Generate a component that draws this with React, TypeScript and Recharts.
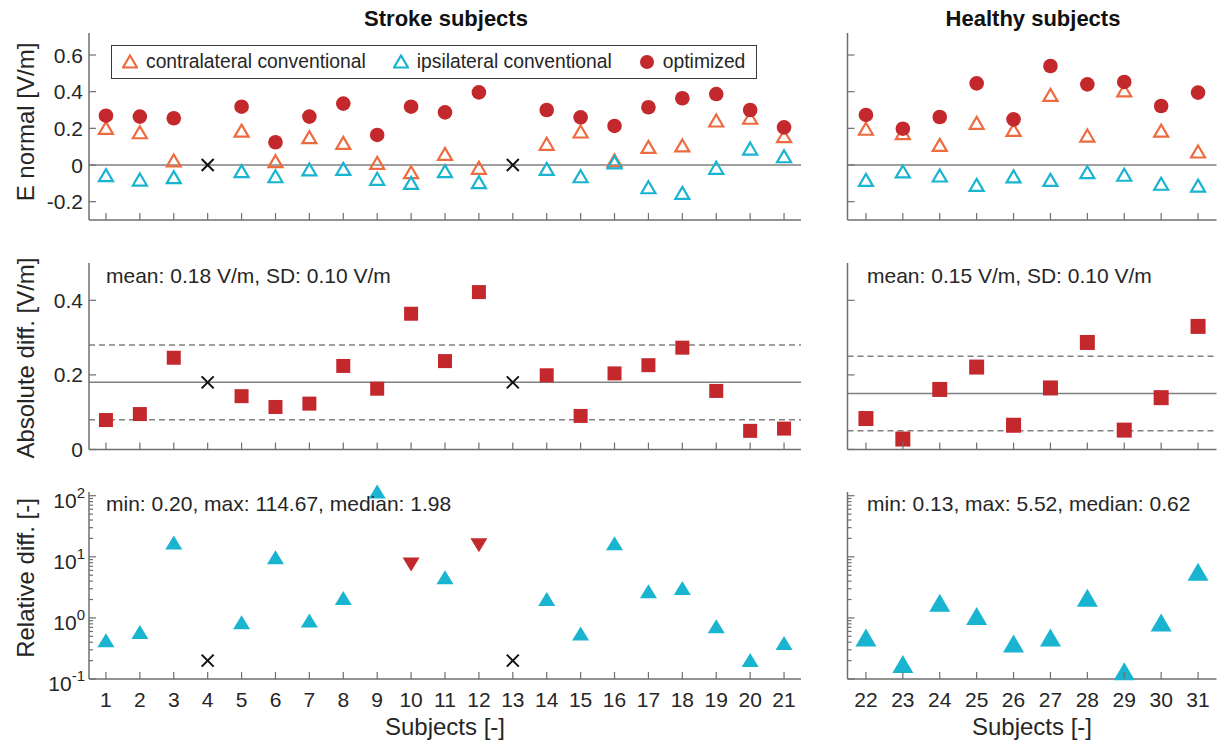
import React from "react";
import {
  ScatterChart,
  Scatter,
  XAxis,
  YAxis,
  ReferenceLine,
  Legend,
} from "recharts";

/* ── Data ─────────────────────────────────────────────────────── */

const STROKE_SUBJECTS = [1, 2, 3, 4, 5, 6, 7, 8, 9, 10, 11, 12, 13, 14, 15, 16, 17, 18, 19, 20, 21];
const HEALTHY_SUBJECTS = [22, 23, 24, 25, 26, 27, 28, 29, 30, 31];
const MISSING_SUBJECTS = [4, 13];

// E normal [V/m], stroke (null = no data)
const STROKE_CONTRA = [0.2, 0.176, 0.022, null, 0.185, 0.018, 0.149, 0.118, 0.009, -0.042, 0.058, -0.018, null, 0.113, 0.18, 0.022, 0.096, 0.104, 0.24, 0.255, 0.155];
const STROKE_IPSI = [-0.058, -0.082, -0.069, null, -0.036, -0.064, -0.027, -0.024, -0.078, -0.1, -0.036, -0.096, null, -0.024, -0.064, 0.012, -0.124, -0.155, -0.018, 0.087, 0.045];
const STROKE_OPT = [0.269, 0.264, 0.255, null, 0.318, 0.124, 0.264, 0.335, 0.164, 0.318, 0.287, 0.396, null, 0.3, 0.26, 0.213, 0.315, 0.364, 0.387, 0.3, 0.205];

// E normal [V/m], healthy
const HEALTHY_CONTRA = [0.195, 0.171, 0.107, 0.227, 0.189, 0.38, 0.158, 0.404, 0.185, 0.071];
const HEALTHY_IPSI = [-0.084, -0.038, -0.06, -0.111, -0.065, -0.084, -0.042, -0.056, -0.105, -0.115];
const HEALTHY_OPT = [0.273, 0.198, 0.262, 0.445, 0.249, 0.54, 0.44, 0.453, 0.322, 0.395];

// absolute difference [V/m]
const STROKE_ABS = [0.079, 0.095, 0.246, null, 0.143, 0.114, 0.123, 0.224, 0.163, 0.364, 0.237, 0.422, null, 0.199, 0.09, 0.204, 0.226, 0.273, 0.157, 0.05, 0.056];
const HEALTHY_ABS = [0.083, 0.028, 0.161, 0.221, 0.065, 0.165, 0.287, 0.052, 0.139, 0.33];
const STROKE_ABS_MEAN = 0.18;
const STROKE_ABS_SD = 0.1;
const HEALTHY_ABS_MEAN = 0.15;
const HEALTHY_ABS_SD = 0.1;

// relative difference [-]
const STROKE_REL = [0.42, 0.57, 16.7, null, 0.83, 9.6, 0.88, 2.07, 114.67, 7.7, 4.5, 15.9, null, 1.98, 0.54, 16.3, 2.65, 3.0, 0.71, 0.2, 0.38];
const STROKE_REL_NEG_CONTRA = [10, 12]; // contralateral field was negative
const HEALTHY_REL = [0.46, 0.17, 1.71, 1.04, 0.37, 0.46, 2.07, 0.13, 0.81, 5.52];

// where the missing subjects are marked
const MISSING_E = [0, 0];
const MISSING_ABS = [0.18, 0.18];
const MISSING_REL = [0.2, 0.2];

// ticks
const E_TICKS = [-0.2, 0, 0.2, 0.4, 0.6];
const ABS_TICKS = [0, 0.2, 0.4];
const LOG_MAJOR = [0.1, 1, 10, 100];
const LOG_TICKS = [0.1, 0.2, 0.3, 0.4, 0.5, 0.6, 0.7, 0.8, 0.9, 1, 2, 3, 4, 5, 6, 7, 8, 9, 10, 20, 30, 40, 50, 60, 70, 80, 90, 100];

/* ── Style ────────────────────────────────────────────────────── */

const FONT = '"Liberation Sans", Arial, Helvetica, sans-serif';
const TEXT = "#262626";
const AXIS = "#6f6f6f";
const REF = "#808080";
const ORANGE = "#ED6B3F";
const CYAN = "#19B4D0";
const RED = "#C3282C";
const AXIS_LINE = { stroke: AXIS, strokeWidth: 1.5 };

type Pt = { x: number; y: number };
const zip = (xs: number[], ys: (number | null)[]): Pt[] =>
  xs.flatMap((x, i) => (ys[i] === null ? [] : [{ x, y: ys[i] as number }]));

/* ── Markers ──────────────────────────────────────────────────── */

const openTriangle = (color: string) => (p: any) => (
  <path
    d={`M${p.cx},${p.cy - 6.5}L${p.cx + 7},${p.cy + 5.5}L${p.cx - 7},${p.cy + 5.5}Z`}
    fill="none"
    stroke={color}
    strokeWidth={2.2}
  />
);

const filledTriangle = (color: string, w: number, h: number, down = false) => (p: any) => {
  const s = down ? -1 : 1;
  return (
    <path
      d={`M${p.cx},${p.cy - s * h * 0.55}L${p.cx + w / 2},${p.cy + s * h * 0.45}L${p.cx - w / 2},${p.cy + s * h * 0.45}Z`}
      fill={color}
    />
  );
};

const dot = (p: any) => <circle cx={p.cx} cy={p.cy} r={7.3} fill={RED} />;
const square = (size: number) => (p: any) => (
  <rect x={p.cx - size / 2} y={p.cy - size / 2} width={size} height={size} fill={RED} />
);
const cross = (p: any) => (
  <g stroke="#111" strokeWidth={2}>
    <line x1={p.cx - 6} y1={p.cy - 6} x2={p.cx + 6} y2={p.cy + 6} />
    <line x1={p.cx - 6} y1={p.cy + 6} x2={p.cx + 6} y2={p.cy - 6} />
  </g>
);

/* ── Ticks (MATLAB style, pointing inward) ─────────────────────── */

function XTick(props: any) {
  const { x, y, payload, showLabel } = props;
  return (
    <g>
      <line x1={x} x2={x} y1={y} y2={y - 7} stroke={AXIS} strokeWidth={1.2} />
      {showLabel && (
        <text x={x} y={y + 28} textAnchor="middle" fontSize={21} fill={TEXT} fontFamily={FONT}>
          {payload.value}
        </text>
      )}
    </g>
  );
}

function YTick(props: any) {
  const { x, y, payload, showLabel, log } = props;
  const v = payload.value as number;
  const major = !log || LOG_MAJOR.includes(v);
  return (
    <g>
      <line x1={x} x2={x + (major ? 7 : 4)} y1={y} y2={y} stroke={AXIS} strokeWidth={1.2} />
      {showLabel && major && !log && (
        <text x={x - 6} y={y + 7.5} textAnchor="end" fontSize={21} fill={TEXT} fontFamily={FONT}>
          {v}
        </text>
      )}
      {showLabel && major && log && (
        <text x={x - 4} y={y + 12} textAnchor="end" fontSize={21} fill={TEXT} fontFamily={FONT}>
          10
          <tspan dy={-10} fontSize={15}>
            {Math.round(Math.log10(v))}
          </tspan>
        </text>
      )}
    </g>
  );
}

/* ── Legend ───────────────────────────────────────────────────── */

function legendIcon(name: string) {
  if (name === "optimized") return <circle cx={8} cy={8} r={7} fill={RED} />;
  const c = name.startsWith("ipsi") ? CYAN : ORANGE;
  return <path d="M8,1.5L15,13.5L1,13.5Z" fill="none" stroke={c} strokeWidth={2.2} />;
}

function LegendBox(props: any) {
  const items = ((props.payload ?? []) as any[]).filter((it) => it.type !== "none");
  return (
    <div
      style={{
        boxSizing: "border-box",
        width: 646,
        height: 34,
        border: "1.5px solid #3a3a3a",
        background: "#fff",
        display: "flex",
        alignItems: "center",
        paddingLeft: 10,
        fontFamily: FONT,
        fontSize: 19.3,
        color: TEXT,
        whiteSpace: "nowrap",
      }}
    >
      {items.map((it, i) => (
        <div key={it.value} style={{ display: "flex", alignItems: "center", marginLeft: i === 0 ? 0 : 27 }}>
          <svg width={16} height={16}>{legendIcon(String(it.value))}</svg>
          <span style={{ marginLeft: 8 }}>{it.value}</span>
        </div>
      ))}
    </div>
  );
}

/* ── Layout helpers ───────────────────────────────────────────── */

const abs = (left: number, top: number): React.CSSProperties => ({ position: "absolute", left, top });

function Text({ x, baseline, size, children, bold, center }: any) {
  const top = baseline - size * 0.8465;
  return (
    <div
      style={{
        position: "absolute",
        left: center ? x - 200 : x,
        width: center ? 400 : undefined,
        textAlign: center ? "center" : "left",
        top,
        fontSize: size,
        lineHeight: 1,
        fontWeight: bold ? 700 : 400,
        color: bold ? "#111" : TEXT,
        fontFamily: FONT,
        whiteSpace: "nowrap",
      }}
    >
      {children}
    </div>
  );
}

function YTitle({ cy, children }: any) {
  return (
    <div
      style={{
        position: "absolute",
        left: 26,
        top: cy,
        transform: "translate(-50%, -50%) rotate(-90deg)",
        fontSize: 24,
        lineHeight: 1,
        color: TEXT,
        fontFamily: FONT,
        whiteSpace: "nowrap",
      }}
    >
      {children}
    </div>
  );
}

const STROKE_X = { domain: [0.5, 21.5] as [number, number], ticks: STROKE_SUBJECTS };
const HEALTHY_X = { domain: [21.5, 31.5] as [number, number], ticks: HEALTHY_SUBJECTS };

function xAxis(x: typeof STROKE_X, height: number, showLabel: boolean) {
  return (
    <XAxis
      type="number"
      dataKey="x"
      domain={x.domain}
      ticks={x.ticks}
      interval={0}
      height={height}
      tickSize={0}
      tickMargin={0}
      tickLine={false}
      axisLine={AXIS_LINE}
      tick={<XTick showLabel={showLabel} />}
    />
  );
}

function yAxis(domain: [number, number], ticks: number[], width: number, showLabel: boolean, log = false) {
  return (
    <YAxis
      type="number"
      dataKey="y"
      scale={log ? "log" : "auto"}
      domain={domain}
      ticks={ticks}
      interval={0}
      width={width}
      tickSize={0}
      tickMargin={0}
      tickLine={false}
      axisLine={AXIS_LINE}
      tick={<YTick showLabel={showLabel} log={log} />}
    />
  );
}

/* ── Component ────────────────────────────────────────────────── */

export default function App() {
  const relUp = zip(
    STROKE_SUBJECTS,
    STROKE_REL.map((v, i) => (STROKE_REL_NEG_CONTRA.includes(STROKE_SUBJECTS[i]) ? null : v))
  );
  const relDown = zip(
    STROKE_SUBJECTS,
    STROKE_REL.map((v, i) => (STROKE_REL_NEG_CONTRA.includes(STROKE_SUBJECTS[i]) ? v : null))
  );

  return (
    <div style={{ position: "absolute", left: 0, top: 0, width: 1217, height: 745, background: "#fff", overflow: "hidden" }}>
      {/* ── Top row: E normal ─────────────────────────────── */}
      <div style={abs(0, 0)}>
        <ScatterChart width={810} height={240} margin={{ top: 33, right: 9, bottom: 0, left: 0 }}>
          {xAxis(STROKE_X, 20, false)}
          {yAxis([-0.3, 0.72], E_TICKS, 89, true)}
          <ReferenceLine y={0} stroke={REF} strokeWidth={1.5} />
          <Scatter name="contralateral conventional" data={zip(STROKE_SUBJECTS, STROKE_CONTRA)} shape={openTriangle(ORANGE)} fill={ORANGE} isAnimationActive={false} />
          <Scatter name="ipsilateral conventional" data={zip(STROKE_SUBJECTS, STROKE_IPSI)} shape={openTriangle(CYAN)} fill={CYAN} isAnimationActive={false} />
          <Scatter name="optimized" data={zip(STROKE_SUBJECTS, STROKE_OPT)} shape={dot} fill={RED} isAnimationActive={false} />
          <Scatter name="missing" legendType="none" data={zip(MISSING_SUBJECTS, MISSING_E)} shape={cross} isAnimationActive={false} />
          <Legend
            layout="vertical"
            align="center"
            verticalAlign="middle"
            wrapperStyle={{ left: 111, top: 45, width: 646, height: 34 }}
            content={<LegendBox />}
          />
        </ScatterChart>
      </div>
      <div style={abs(760, 0)}>
        <ScatterChart width={457} height={240} margin={{ top: 33, right: 0.5, bottom: 0, left: 0 }}>
          {xAxis(HEALTHY_X, 20, false)}
          {yAxis([-0.3, 0.72], E_TICKS, 87.5, false)}
          <ReferenceLine y={0} stroke={REF} strokeWidth={1.5} />
          <Scatter name="contralateral conventional" data={zip(HEALTHY_SUBJECTS, HEALTHY_CONTRA)} shape={openTriangle(ORANGE)} isAnimationActive={false} />
          <Scatter name="ipsilateral conventional" data={zip(HEALTHY_SUBJECTS, HEALTHY_IPSI)} shape={openTriangle(CYAN)} isAnimationActive={false} />
          <Scatter name="optimized" data={zip(HEALTHY_SUBJECTS, HEALTHY_OPT)} shape={dot} isAnimationActive={false} />
        </ScatterChart>
      </div>

      {/* ── Middle row: absolute difference ───────────────── */}
      <div style={abs(0, 240)}>
        <ScatterChart width={810} height={230} margin={{ top: 23, right: 9, bottom: 0, left: 0 }}>
          {xAxis(STROKE_X, 20.5, false)}
          {yAxis([0, 0.5], ABS_TICKS, 89, true)}
          <ReferenceLine y={STROKE_ABS_MEAN + STROKE_ABS_SD} stroke={REF} strokeWidth={1.5} strokeDasharray="6 4" />
          <ReferenceLine y={STROKE_ABS_MEAN} stroke={REF} strokeWidth={1.5} />
          <ReferenceLine y={STROKE_ABS_MEAN - STROKE_ABS_SD} stroke={REF} strokeWidth={1.5} strokeDasharray="6 4" />
          <Scatter name="abs" data={zip(STROKE_SUBJECTS, STROKE_ABS)} shape={square(14)} isAnimationActive={false} />
          <Scatter name="missing" data={zip(MISSING_SUBJECTS, MISSING_ABS)} shape={cross} isAnimationActive={false} />
        </ScatterChart>
      </div>
      <div style={abs(760, 240)}>
        <ScatterChart width={457} height={230} margin={{ top: 23, right: 0.5, bottom: 0, left: 0 }}>
          {xAxis(HEALTHY_X, 20.5, false)}
          {yAxis([0, 0.5], ABS_TICKS, 87.5, false)}
          <ReferenceLine y={HEALTHY_ABS_MEAN + HEALTHY_ABS_SD} stroke={REF} strokeWidth={1.5} strokeDasharray="6 4" />
          <ReferenceLine y={HEALTHY_ABS_MEAN} stroke={REF} strokeWidth={1.5} />
          <ReferenceLine y={HEALTHY_ABS_MEAN - HEALTHY_ABS_SD} stroke={REF} strokeWidth={1.5} strokeDasharray="6 4" />
          <Scatter name="abs" data={zip(HEALTHY_SUBJECTS, HEALTHY_ABS)} shape={square(15)} isAnimationActive={false} />
        </ScatterChart>
      </div>

      {/* ── Bottom row: relative difference (log) ─────────── */}
      <div style={abs(0, 470)}>
        <ScatterChart width={810} height={275} margin={{ top: 22, right: 9, bottom: 0, left: 0 }}>
          {xAxis(STROKE_X, 66, true)}
          {yAxis([0.1, 115], LOG_TICKS, 89, true, true)}
          <Scatter name="rel" data={relUp} shape={filledTriangle(CYAN, 17, 14)} isAnimationActive={false} />
          <Scatter name="rel negative" data={relDown} shape={filledTriangle(RED, 17, 14, true)} isAnimationActive={false} />
          <Scatter name="missing" data={zip(MISSING_SUBJECTS, MISSING_REL)} shape={cross} isAnimationActive={false} />
        </ScatterChart>
      </div>
      <div style={abs(760, 470)}>
        <ScatterChart width={457} height={275} margin={{ top: 22, right: 0.5, bottom: 0, left: 0 }}>
          {xAxis(HEALTHY_X, 66, true)}
          {yAxis([0.1, 115], LOG_TICKS, 87.5, false, true)}
          <Scatter name="rel" data={zip(HEALTHY_SUBJECTS, HEALTHY_REL)} shape={filledTriangle(CYAN, 21, 18)} isAnimationActive={false} />
        </ScatterChart>
      </div>

      {/* ── Text ──────────────────────────────────────────── */}
      <Text x={446} baseline={27} size={22} bold center>Stroke subjects</Text>
      <Text x={1033} baseline={27} size={22} bold center>Healthy subjects</Text>

      <Text x={106} baseline={283} size={21}>mean: 0.18 V/m, SD: 0.10 V/m</Text>
      <Text x={867} baseline={283} size={21}>mean: 0.15 V/m, SD: 0.10 V/m</Text>
      <Text x={106} baseline={511} size={21}>min: 0.20, max: 114.67, median: 1.98</Text>
      <Text x={867} baseline={511} size={21}>min: 0.13, max: 5.52, median: 0.62</Text>

      <Text x={445} baseline={735} size={24} center>Subjects [-]</Text>
      <Text x={1032} baseline={735} size={24} center>Subjects [-]</Text>

      <YTitle cy={122}>E normal [V/m]</YTitle>
      <YTitle cy={358}>Absolute diff. [V/m]</YTitle>
      <YTitle cy={578}>Relative diff. [-]</YTitle>
    </div>
  );
}
